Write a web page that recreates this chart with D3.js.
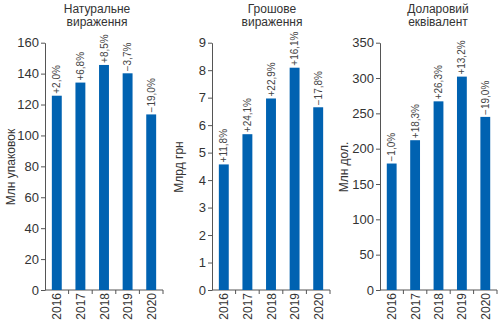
<!DOCTYPE html>
<html><head><meta charset="utf-8">
<script src="https://cdn.jsdelivr.net/npm/d3@7"></script>
<style>
body{margin:0;background:#fff}
svg{display:block;font-family:"Liberation Sans",Arial,sans-serif}
</style></head>
<body><svg id="c" width="500" height="324"></svg>
<script>
const years = ["2016","2017","2018","2019","2020"];
const unitsValues = [125.7, 134.2, 145.6, 140.2, 113.6];
const unitsChanges = ["+2,0%","+6,8%","+8,5%","−3,7%","−19,0%"];
const uahValues = [4.57, 5.67, 6.97, 8.09, 6.65];
const uahChanges = ["+11,8%","+24,1%","+22,9%","+16,1%","−17,8%"];
const usdValues = [179, 212, 267, 302, 245];
const usdChanges = ["−1,0%","+18,3%","+26,3%","+13,2%","−19,0%"];
const titles = [["Натуральне","вираження"],["Грошове","вираження"],["Доларовий","еквівалент"]];
const yLabels = ["Млн упаковок","Млрд грн","Млн дол."];
const yMax = [160, 9, 350];
const yTickStep = [20, 1, 50];

const panels = [
  {vals:unitsValues, chg:unitsChanges, x0:45, x1:163, tx:97, lx:10},
  {vals:uahValues, chg:uahChanges, x0:212, x1:330, tx:272, lx:178},
  {vals:usdValues, chg:usdChanges, x0:380, x1:497, tx:438, lx:343}
];
const svg = d3.select("#c");
const yTop = 42.7, yBot = 290;
const barColor = "#0062b1", axisColor = "#555", textColor = "#333";

panels.forEach((p,i)=>{
  const g = svg.append("g");
  const x = d3.scaleBand().domain(years).range([p.x0, p.x1]).paddingInner(0.58).paddingOuter(0.29);
  const y = d3.scaleLinear().domain([0, yMax[i]]).range([yBot, yTop]);
  const ticks = d3.range(0, yMax[i] + yTickStep[i]/2, yTickStep[i]);
  const ya = g.append("g").attr("transform",`translate(${p.x0},0)`)
    .call(d3.axisLeft(y).tickValues(ticks).tickSize(4).tickPadding(2).tickSizeOuter(0));
  ya.select(".domain").attr("stroke",axisColor);
  ya.selectAll(".tick line").attr("stroke",axisColor);
  ya.selectAll(".tick text").attr("fill",textColor).style("font-size","13px").style("font-family","inherit");
  const bound = d3.scaleLinear().domain([0,years.length]).range([p.x0,p.x1]);
  g.append("line").attr("x1",p.x0).attr("x2",p.x1).attr("y1",yBot).attr("y2",yBot).attr("stroke",axisColor);
  g.selectAll(".xt").data(d3.range(1,years.length+1)).join("line")
    .attr("x1",d=>bound(d)).attr("x2",d=>bound(d)).attr("y1",yBot).attr("y2",yBot+4).attr("stroke",axisColor);
  g.selectAll(".yl").data(years).join("text")
    .attr("transform",d=>`translate(${x(d)+x.bandwidth()/2+4.5},${yBot+3}) rotate(-90)`)
    .attr("text-anchor","end").attr("fill",textColor).style("font-size","12px").text(d=>d);
  g.selectAll("rect").data(p.vals).join("rect")
    .attr("x",(d,j)=>x(years[j])).attr("width",x.bandwidth())
    .attr("y",d=>y(d)).attr("height",d=>yBot-y(d)).attr("fill",barColor);
  g.selectAll(".cl").data(p.vals).join("text")
    .attr("transform",(d,j)=>`translate(${x(years[j])+x.bandwidth()/2+3.5},${y(d)-2}) rotate(-90)`)
    .attr("fill","#444").style("font-size","10px").text((d,j)=>p.chg[j]);
  g.append("text").attr("x",p.tx).attr("y",12.5).attr("text-anchor","middle").attr("fill",textColor)
    .style("font-size","12px").text(titles[i][0]);
  g.append("text").attr("x",p.tx).attr("y",26).attr("text-anchor","middle").attr("fill",textColor)
    .style("font-size","12px").text(titles[i][1]);
  g.append("text").attr("transform",`translate(${p.lx+4.5},${167}) rotate(-90)`)
    .attr("text-anchor","middle").attr("fill",textColor).style("font-size","12px").text(yLabels[i]);
});
</script></body></html>
